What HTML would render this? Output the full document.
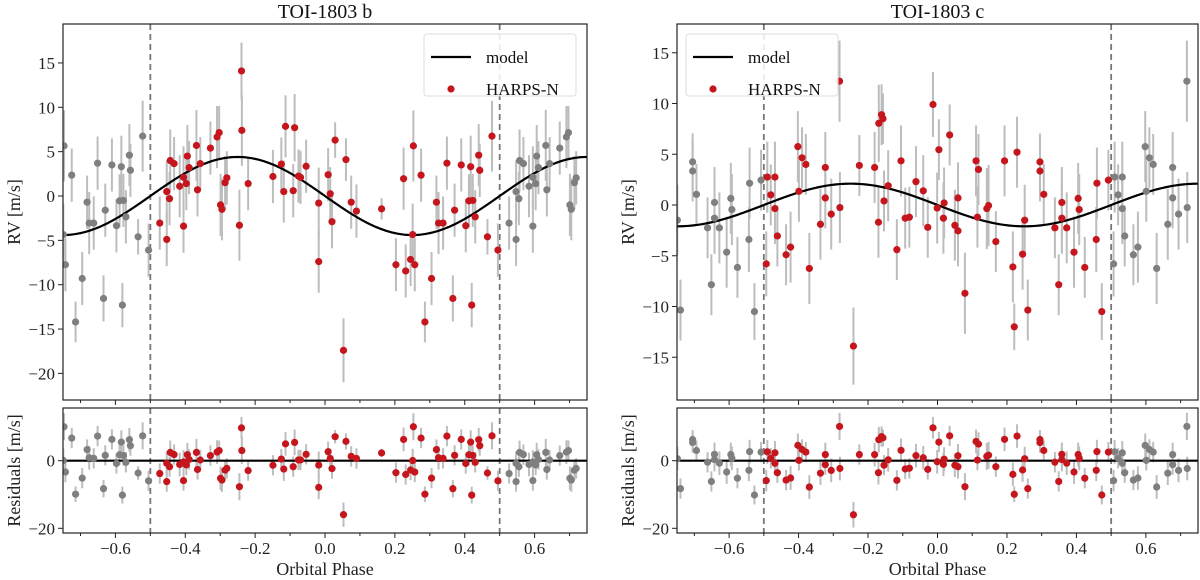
<!DOCTYPE html>
<html><head><meta charset="utf-8">
<style>
html,body{margin:0;padding:0;background:#fff;}
svg{display:block;font-family:"Liberation Serif",serif;}
</style></head>
<body>
<svg id="chart" width="1200" height="580" viewBox="0 0 1200 580" xmlns="http://www.w3.org/2000/svg"></svg>
<script>
// ---- Data: planet b (phase, RV m/s) ----
const phaseB = [-0.473,-0.453,-0.453,-0.445,-0.443,-0.432,-0.416,-0.405,-0.405,-0.397,-0.394,-0.389,-0.368,-0.365,-0.357,-0.328,-0.309,-0.303,-0.299,-0.295,-0.286,-0.281,-0.245,-0.239,-0.238,-0.220,-0.149,-0.125,-0.118,-0.113,-0.091,-0.087,-0.076,-0.070,-0.054,-0.018,-0.018,0.009,0.015,0.020,0.029,0.053,0.060,0.075,0.090,0.162,0.203,0.225,0.231,0.245,0.251,0.253,0.257,0.275,0.286,0.305,0.319,0.325,0.338,0.349,0.366,0.371,0.390,0.403,0.412,0.417,0.420,0.423,0.430,0.440,0.443,0.465,0.478,0.495];
const rvB = [-3.05,0.5,-4.9,-0.3,4.0,3.65,1.1,2.1,-3.4,1.4,4.5,3.2,5.7,0.7,3.65,5.4,6.65,7.15,-1.0,-1.5,1.5,2.05,-3.3,14.1,7.4,1.4,2.2,3.6,0.5,7.85,0.6,7.7,2.25,2.1,3.35,-0.8,-7.4,2.4,0.25,-2.9,6.3,-17.4,4.1,-0.7,-1.7,-1.45,-7.75,1.95,-8.45,-7.15,-4.35,5.65,-7.75,2.35,-14.2,-9.3,-0.7,-3.05,-3.05,3.7,-11.55,-1.6,3.5,-3.35,-0.55,3.3,-12.3,-0.5,-2.35,4.6,2.9,-4.6,6.75,-6.1];
const errB = [3,3.5,3,3,3.5,3,3.5,3.5,3,3,3.5,3,4,3,3,3,3.5,3,3.5,3.5,3,3,4,3.2,4,3,3,3,3.5,3.5,3,3.8,3,3,3,4,3.5,3,3,3,2,3.6,2.4,3,3,1.2,3,3.5,3,3,3.5,4,3,3,2.3,3,3,3.5,3,3,2.6,3,3,3,3,3.5,2.5,3,3,3.5,3,2,4,3];
const KB = 4.4;
// ---- Data: planet c ----
const phaseC = [-0.493,-0.490,-0.480,-0.468,-0.468,-0.461,-0.436,-0.423,-0.402,-0.399,-0.390,-0.379,-0.369,-0.337,-0.323,-0.323,-0.306,-0.282,-0.281,-0.242,-0.225,-0.181,-0.170,-0.169,-0.161,-0.157,-0.154,-0.142,-0.117,-0.105,-0.093,-0.081,-0.062,-0.041,-0.028,-0.013,-0.001,0.004,0.017,0.019,0.035,0.050,0.059,0.059,0.079,0.111,0.115,0.118,0.142,0.147,0.168,0.193,0.217,0.221,0.229,0.245,0.251,0.260,0.295,0.295,0.306,0.338,0.349,0.358,0.358,0.372,0.393,0.405,0.408,0.424,0.457,0.459,0.473,0.492];
const rvC = [-5.8,2.75,1.0,2.75,-0.35,-3.05,-4.9,-4.15,5.75,1.35,4.65,4.0,-6.25,-1.9,3.7,0.7,-0.9,12.2,-0.25,-13.9,3.9,3.7,-1.7,8.05,8.9,8.5,0.4,1.9,-4.4,4.35,-1.3,-1.2,2.3,1.4,-2.2,9.9,-0.3,5.45,-1.3,0.2,6.9,-2.0,0.7,-2.55,-8.7,4.35,-1.2,3.5,-0.35,-0.05,-3.6,4.35,-6.1,-12.0,5.2,-4.85,-1.5,-10.35,4.25,3.35,1.05,-2.25,-7.85,0.25,-1.3,-2.25,-4.65,0.65,-0.45,-6.15,-3.4,2.15,-10.5,2.45];
const errC = [3.2,3.5,3,3.5,3.5,3,3,3.5,3.5,3,3,3,3.5,3.5,3.5,3,3.5,4,3.5,3.8,3,3.5,3.5,3.8,3,2.5,3,3.5,3,3.5,3,3,3.5,3.5,3,3.2,3.5,3,3.5,3.5,3,3.5,3.5,3.5,4,3.5,3,3.5,4,4,3,3.5,3.5,2.3,3.5,3.5,3.5,3,2.8,3,3,3,3,3.5,3.5,3.5,3.5,3.5,3.5,3,3.2,3.5,2.8,3];
const KC = 2.1;
const xTicks = [-0.6,-0.4,-0.2,0.0,0.2,0.4,0.6];
const yTicksB = [15,10,5,0,-5,-10,-15,-20];
const yTicksC = [15,10,5,0,-5,-10,-15];
const resTicks = [0,-20];

const NS="http://www.w3.org/2000/svg";
const svg=document.getElementById('chart');
function el(tag,attrs,parent){const e=document.createElementNS(NS,tag);for(const k in attrs)e.setAttribute(k,attrs[k]);(parent||svg).appendChild(e);return e;}
function fmt(v){return (v<0?'\u2212':'')+Math.abs(v).toFixed(1);}
function fmtI(v){return (v<0?'\u2212':'')+Math.abs(v);}

function panel(cfg){
  const {left,right,mainTop,mainBot,y0,ppu,resTop,resBot,r0,rppu,phases,rvs,errs,K,title,yTicks,legendX,name}=cfg;
  const g=el('g',{});
  
  
  const X=p=>left+(p+0.75)/1.5*(right-left);
  const Y=v=>y0-v*ppu;
  const R=v=>r0-v*rppu;
  const model=p=>-K*Math.sin(2*Math.PI*p);
  // expand with wrapped copies
  const pts=[];
  phases.forEach((p,i)=>{
    pts.push({p:p,v:rvs[i],e:errs[i],red:true});
    if(p+1<=0.75) pts.push({p:p+1,v:rvs[i],e:errs[i],red:false});
    if(p-1>=-0.75) pts.push({p:p-1,v:rvs[i],e:errs[i],red:false});
  });
  const clipId=name+'-clip', clipR=name+'-clipr';
  const cp=el('clipPath',{id:clipId},g);el('rect',{x:left,y:mainTop,width:right-left,height:mainBot-mainTop},cp);
  const cr=el('clipPath',{id:clipR},g);el('rect',{x:left,y:resTop,width:right-left,height:resBot-resTop},cr);
  const gm=el('g',{'clip-path':'url(#'+clipId+')'},g);
  
  
  const gr=el('g',{'clip-path':'url(#'+clipR+')'},g);
  
  
  // dashed lines
  [-0.5,0.5].forEach(p=>{
    const d1=el('line',{x1:X(p),x2:X(p),y1:mainTop,y2:mainBot,stroke:'#777','stroke-width':1.8,'stroke-dasharray':'6,4'},gm);
    
    
    const d2=el('line',{x1:X(p),x2:X(p),y1:resTop,y2:resBot,stroke:'#777','stroke-width':1.8,'stroke-dasharray':'6,4'},gr);
    
    
  });
  // error bars
  pts.forEach(o=>{
    const a=el('line',{x1:X(o.p),x2:X(o.p),y1:Y(o.v-o.e),y2:Y(o.v+o.e),stroke:'#bdbdbd','stroke-width':2},gm);
    
    
    const rv=o.v-model(o.p);
    const b=el('line',{x1:X(o.p),x2:X(o.p),y1:R(rv-o.e),y2:R(rv+o.e),stroke:'#bdbdbd','stroke-width':2},gr);
    
    
  });
  // model curve
  let d='';for(let i=0;i<=300;i++){const p=-0.75+1.5*i/300;d+=(i?'L':'M')+X(p).toFixed(2)+','+Y(model(p)).toFixed(2);}
  const mc=el('path',{d:d,fill:'none',stroke:'#000','stroke-width':2.2},gm);
  
  
  const zl=el('line',{x1:left,x2:right,y1:R(0),y2:R(0),stroke:'#000','stroke-width':2.2},gr);
  
  
  // points: gray first then red
  [false,true].forEach(red=>pts.filter(o=>o.red===red).forEach(o=>{
    const c=el('circle',{cx:X(o.p),cy:Y(o.v),r:3.6,fill:red?'#c4161c':'#7f7f7f'},gm);
    
    
    const c2=el('circle',{cx:X(o.p),cy:R(o.v-model(o.p)),r:3.6,fill:red?'#c4161c':'#7f7f7f'},gr);
    
    
  }));
  // frames
  const f1=el('rect',{x:left,y:mainTop,width:right-left,height:mainBot-mainTop,fill:'none',stroke:'#222','stroke-width':1.2},g);
  
  
  const f2=el('rect',{x:left,y:resTop,width:right-left,height:resBot-resTop,fill:'none',stroke:'#222','stroke-width':1.2},g);
  
  
  // x ticks (major 0.2 labelled, minor 0.1)
  for(let k=-7;k<=7;k++){const p=k/10;const x=X(p);
    el('line',{x1:x,x2:x,y1:mainBot,y2:mainBot+(k%2===0?5:3),stroke:'#222','stroke-width':1},g);
    el('line',{x1:x,x2:x,y1:resBot,y2:resBot+(k%2===0?5:3),stroke:'#222','stroke-width':1},g);}
  xTicks.forEach(p=>{const t=el('text',{x:X(p),y:resBot+21,'text-anchor':'middle','font-size':17,fill:'#222'},g);t.textContent=fmt(p);
    });
  yTicks.forEach(v=>{el('line',{x1:left-5,x2:left,y1:Y(v),y2:Y(v),stroke:'#222','stroke-width':1},g);
    const t=el('text',{x:left-8,y:Y(v)+6,'text-anchor':'end','font-size':17,fill:'#222'},g);t.textContent=fmtI(v);
    });
  resTicks.forEach(v=>{el('line',{x1:left-5,x2:left,y1:R(v),y2:R(v),stroke:'#222','stroke-width':1},g);
    const t=el('text',{x:left-8,y:R(v)+6,'text-anchor':'end','font-size':17,fill:'#222'},g);t.textContent=fmtI(v);
    });
  // labels
  const tt=el('text',{x:(left+right)/2,y:18,'text-anchor':'middle','font-size':20,fill:'#111'},g);tt.textContent=title;
  
  const xl=el('text',{x:(left+right)/2,y:575,'text-anchor':'middle','font-size':18,fill:'#222'},g);xl.textContent='Orbital Phase';
  
  const yl=el('text',{x:0,y:0,'text-anchor':'middle','font-size':18,fill:'#222',transform:'translate('+(left-43)+','+((mainTop+mainBot)/2)+') rotate(-90)'},g);yl.textContent='RV [m/s]';
  
  const rl=el('text',{x:0,y:0,'text-anchor':'middle','font-size':18,fill:'#222',transform:'translate('+(left-43)+','+((resTop+resBot)/2)+') rotate(-90)'},g);rl.textContent='Residuals [m/s]';
  
  // legend
  const lg=el('g',{},g);
  
  
  el('rect',{x:legendX,y:34,width:152,height:62,rx:3,fill:'#fff','fill-opacity':0.85,stroke:'#ddd','stroke-width':1},lg);
  const le1=el('line',{x1:legendX+7,x2:legendX+47,y1:57,y2:57,stroke:'#000','stroke-width':2.2},lg);
  
  const l1=el('text',{x:legendX+62,y:63,'font-size':17,fill:'#111'},lg);l1.textContent='model';
  
  const le2=el('circle',{cx:legendX+27,cy:89,r:3.6,fill:'#c4161c'},lg);
  
  const l2=el('text',{x:legendX+62,y:95,'font-size':17,fill:'#111'},lg);l2.textContent='HARPS-N';
  
}
panel({name:'panel-toi-1803-b',left:63,right:587,mainTop:24,mainBot:400,y0:196,ppu:8.87,resTop:408,resBot:533,r0:460.7,rppu:3.38,
  phases:phaseB,rvs:rvB,errs:errB,K:KB,title:'TOI-1803 b',yTicks:yTicksB,legendX:424});
panel({name:'panel-toi-1803-c',left:677,right:1198,mainTop:24,mainBot:400,y0:205,ppu:10.15,resTop:408,resBot:533,r0:460.7,rppu:3.38,
  phases:phaseC,rvs:rvC,errs:errC,K:KC,title:'TOI-1803 c',yTicks:yTicksC,legendX:686});
</script>
</body></html>
